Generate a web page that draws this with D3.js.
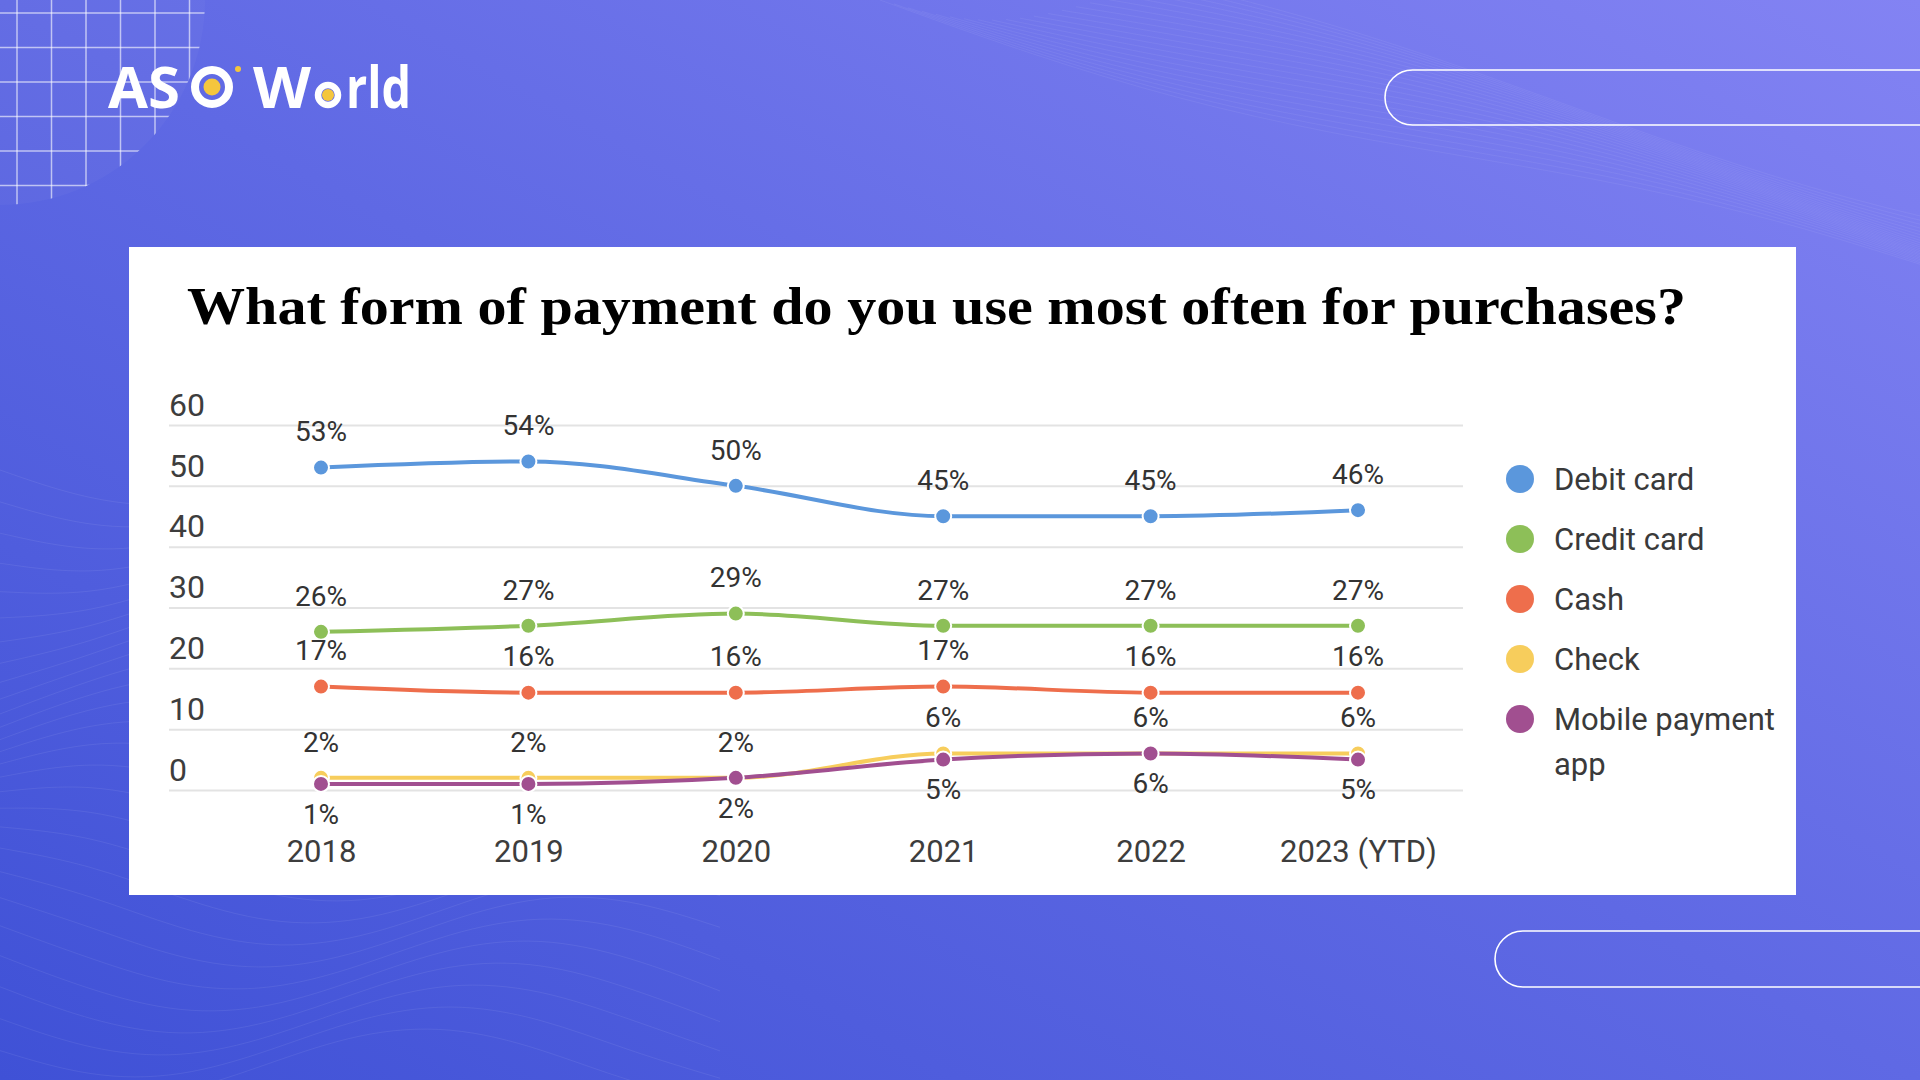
<!DOCTYPE html>
<html lang="en">
<head>
<meta charset="utf-8">
<title>What form of payment do you use most often for purchases?</title>
<script src="https://d3js.org/d3.v7.min.js"></script>
<style>
  html, body { margin: 0; padding: 0; background: #5a66e2; }
  svg { display: block; }
  .grid line { stroke: #e3e3e3; stroke-width: 2; }
  .grid .domain { display: none; }
  .tick text { fill: #3d3d3d; font-family: Roboto, "Noto Sans", sans-serif; }
</style>
</head>
<body>
<svg width="1920" height="1080"></svg>
<script>
// data
var years = ["2018", "2019", "2020", "2021", "2022", "2023 (YTD)"];
var seriesNames = ["Debit card", "Credit card", "Cash", "Check", "Mobile payment app"];
var debitCard = [53, 54, 50, 45, 45, 46];
var creditCard = [26, 27, 29, 27, 27, 27];
var cash = [17, 16, 16, 17, 16, 16];
var check = [2, 2, 2, 6, 6, 6];
var mobileApp = [1, 1, 2, 5, 6, 5];
var yTicks = [0, 10, 20, 30, 40, 50, 60];
var colors = ["#5b97dc", "#8dbf58", "#ee6e4c", "#f7cd5c", "#a14f90"];
var labelBelow = [false, false, false, false, true];

var series = [debitCard, creditCard, cash, check, mobileApp].map(function (vals, i) {
  return { name: seriesNames[i], color: colors[i], below: labelBelow[i],
           values: vals.map(function (v, j) { return { year: years[j], value: v }; }) };
});

var svg = d3.select("svg");

// ----- background -----
var defs = svg.append("defs");
var bg = defs.append("linearGradient").attr("id", "bg")
  .attr("x1", 0).attr("y1", 1).attr("x2", 1).attr("y2", 0);
bg.append("stop").attr("offset", "0%").attr("stop-color", "#3f51d6");
bg.append("stop").attr("offset", "50%").attr("stop-color", "#5f69e4");
bg.append("stop").attr("offset", "100%").attr("stop-color", "#8383f3");
svg.append("rect").attr("width", 1920).attr("height", 1080).attr("fill", "url(#bg)");

// faint mesh waves
var wave = d3.line().curve(d3.curveBasis);
var mesh = svg.append("g").attr("fill", "none").attr("stroke", "#ffffff");
d3.range(28).forEach(function (i) {
  mesh.append("path")
    .attr("stroke-opacity", 0.07)
    .attr("d", wave(d3.range(0, 9).map(function (k) {
      var x = k * 90;
      return [x, 470 + i * 22 + Math.sin(k * 0.9 + i * 0.25) * 40];
    })));
});
d3.range(22).forEach(function (i) {
  mesh.append("path")
    .attr("stroke-opacity", 0.06)
    .attr("d", wave(d3.range(0, 8).map(function (k) {
      var x = 880 + i * 14 + k * 150;
      return [x, k * 40 + Math.sin(k * 0.8 + i * 0.2) * 20];
    })));
});

// top-left grid
var gridClip = defs.append("clipPath").attr("id", "gridClip");
gridClip.append("circle").attr("cx", 0).attr("cy", 0).attr("r", 205);
svg.append("circle").attr("cx", 0).attr("cy", 0).attr("r", 205)
  .attr("fill", "#ffffff").attr("fill-opacity", 0.03);
var tgrid = svg.append("g").attr("clip-path", "url(#gridClip)")
  .attr("stroke", "#ffffff").attr("stroke-opacity", 0.6).attr("stroke-width", 1.5);
d3.range(6).forEach(function (i) {
  var p = 17 + i * 34.5;
  tgrid.append("line").attr("x1", p).attr("x2", p).attr("y1", 0).attr("y2", 210);
  tgrid.append("line").attr("y1", p - 4).attr("y2", p - 4).attr("x1", 0).attr("x2", 210);
});

// outlined pills
svg.append("rect").attr("x", 1385).attr("y", 70).attr("width", 700).attr("height", 55)
  .attr("rx", 27.5).attr("fill", "none").attr("stroke", "#ffffff").attr("stroke-width", 1.6);
svg.append("rect").attr("x", 1495).attr("y", 931).attr("width", 700).attr("height", 56)
  .attr("rx", 28).attr("fill", "none").attr("stroke", "#ffffff").attr("stroke-width", 1.6);

// logo
var logo = svg.append("g").attr("font-family", "'Open Sans', sans-serif")
  .attr("font-weight", 700).attr("font-size", 58).attr("fill", "#ffffff");
logo.append("text").attr("x", 108).attr("y", 108).text("AS");
logo.append("circle").attr("cx", 212).attr("cy", 87).attr("r", 17)
  .attr("fill", "none").attr("stroke", "#ffffff").attr("stroke-width", 8);
logo.append("circle").attr("cx", 212).attr("cy", 87).attr("r", 8.5).attr("fill", "#f4c63d");
logo.append("circle").attr("cx", 238).attr("cy", 69).attr("r", 3).attr("fill", "#f4c63d");
logo.append("text").attr("x", 253).attr("y", 108)
  .attr("textLength", 58).attr("lengthAdjust", "spacingAndGlyphs").text("W");
logo.append("circle").attr("cx", 328).attr("cy", 95).attr("r", 10)
  .attr("fill", "none").attr("stroke", "#ffffff").attr("stroke-width", 6.5);
logo.append("circle").attr("cx", 328).attr("cy", 95).attr("r", 6).attr("fill", "#f4c63d");
logo.append("text").attr("x", 346).attr("y", 108)
  .attr("textLength", 65).attr("lengthAdjust", "spacingAndGlyphs").text("rld");

// ----- white panel -----
svg.append("rect").attr("x", 129).attr("y", 247).attr("width", 1667).attr("height", 648)
  .attr("fill", "#ffffff");

svg.append("text")
  .attr("x", 187).attr("y", 324)
  .attr("font-family", "'Liberation Serif', 'Times New Roman', serif")
  .attr("font-weight", "bold").attr("font-size", 52).attr("fill", "#000")
  .attr("textLength", 1499).attr("lengthAdjust", "spacingAndGlyphs")
  .text("What form of payment do you use most often for purchases?");

// ----- chart -----
var gridLeft = 169, gridRight = 1463;
var x = d3.scalePoint().domain(years).range([321, 1358]);
var y = d3.scaleLinear().domain([0, 60]).range([790, 425]);

svg.append("g")
  .attr("class", "grid")
  .attr("transform", "translate(" + gridLeft + ",0)")
  .call(d3.axisRight(y).tickValues(yTicks).tickSize(gridRight - gridLeft))
  .call(function (g) {
    g.selectAll("text")
      .attr("x", 0).attr("y", -21).attr("dy", "0.35em")
      .attr("text-anchor", "start").attr("font-size", 32);
  });

svg.append("g")
  .attr("transform", "translate(0,851)")
  .call(d3.axisBottom(x).tickSize(0))
  .call(function (g) {
    g.select(".domain").remove();
    g.selectAll("text").attr("y", 0).attr("dy", "0.35em").attr("font-size", 31);
  });

var line = d3.line()
  .x(function (d) { return x(d.year); })
  .y(function (d) { return y(d.value); })
  .curve(d3.curveMonotoneX);

var sg = svg.selectAll(".series").data(series).enter().append("g").attr("class", "series");

sg.append("path")
  .attr("fill", "none")
  .attr("stroke", function (d) { return d.color; })
  .attr("stroke-width", 4)
  .attr("d", function (d) { return line(d.values); });

sg.selectAll("circle").data(function (d) { return d.values.map(function (v) { return { s: d, v: v }; }); })
  .enter().append("circle")
  .attr("cx", function (d) { return x(d.v.year); })
  .attr("cy", function (d) { return y(d.v.value); })
  .attr("r", 8)
  .attr("fill", function (d) { return d.s.color; })
  .attr("stroke", "#ffffff").attr("stroke-width", 2);

sg.selectAll(".lbl").data(function (d) { return d.values.map(function (v) { return { s: d, v: v }; }); })
  .enter().append("text")
  .attr("class", "lbl")
  .attr("x", function (d) { return x(d.v.year); })
  .attr("y", function (d) { return y(d.v.value) + (d.s.below ? 30 : -36); })
  .attr("dy", "0.35em")
  .attr("text-anchor", "middle")
  .attr("font-family", "Roboto, 'Noto Sans', sans-serif")
  .attr("font-size", 28).attr("fill", "#333")
  .text(function (d) { return d.v.value + "%"; });

// legend
var legend = svg.append("g").attr("transform", "translate(1520,479)");
var li = legend.selectAll("g").data(series).enter().append("g")
  .attr("transform", function (d, i) { return "translate(0," + i * 60 + ")"; });
li.append("circle").attr("r", 14).attr("fill", function (d) { return d.color; });
li.append("text")
  .attr("x", 34).attr("dy", "0.35em")
  .attr("font-family", "Roboto, 'Noto Sans', sans-serif")
  .attr("font-size", 31).attr("fill", "#3a3a3a")
  .each(function (d) {
    var words = d.name === "Mobile payment app" ? ["Mobile payment", "app"] : [d.name];
    var t = d3.select(this);
    words.forEach(function (w, k) {
      t.append("tspan").attr("x", 34).attr("dy", k === 0 ? "0.35em" : "1.45em").text(w);
    });
  });
</script>
</body>
</html>
